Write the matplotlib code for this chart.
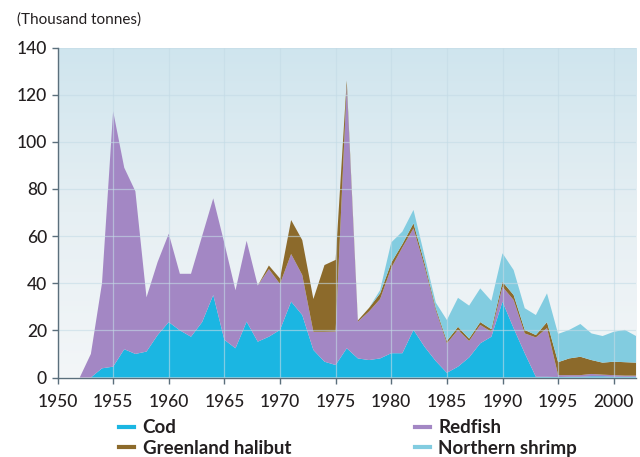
import numpy as np
import matplotlib
matplotlib.use("Agg")
import matplotlib.pyplot as plt
from matplotlib.lines import Line2D
from matplotlib.colors import LinearSegmentedColormap

years = list(range(1950, 2003))

# cumulative tops (thousand tonnes)
cod = [0, 0, 0, 0, 3.9, 4.6, 12, 10, 11, 18, 23.5, 20, 17.3, 23.5, 35, 16, 12.4, 23.7, 15.2, 17.3,
       20.2, 32.2, 26.5, 11.7, 6.7, 5.3, 12.4, 8.1, 7.4, 8.1, 10.3, 10.3, 20.2, 13, 7, 2, 4.6, 8.5, 14.5, 17.3,
       32.2, 20.9, 10.3, 0.3, 0.3, 0.2, 0.3, 0.3, 0.5, 0.5, 0.3, 0.3, 0.3]
redfish_top = [0, 0, 0, 10, 40, 113, 89, 79, 34, 49, 61, 44, 44, 60, 76, 57, 37, 58, 39, 46,
               39.7, 52.4, 43.5, 19.4, 19.4, 19.5, 124, 23.7, 28, 33.3, 46.5, 55.2, 63.3, 47, 28.6, 14.5, 20.2, 15.5, 22.3, 19.4,
               38.5, 32.9, 18.7, 17, 21, 1, 1, 1, 1.5, 1.2, 1, 0.8, 0.8]
halibut_top = [0, 0, 0, 10, 40, 113, 89, 79, 34, 49, 61, 44, 44, 60, 76, 57, 37, 58, 39, 47.5,
               42, 66.8, 58.3, 33.3, 47.7, 49.9, 126, 24.2, 29.5, 35.7, 48.7, 56.6, 65.4, 48.5, 29.5, 15.5, 21.5, 16.5, 23.5, 20.5,
               40.6, 35, 20.2, 18, 23.5, 6.5, 8.1, 8.8, 7.4, 6.3, 6.7, 6.5, 6.3]
shrimp_top = [0, 0, 0, 10, 40, 113, 89, 79, 34, 49, 61, 44, 44, 60, 76, 57, 37, 58, 39, 47.5,
              42, 66.8, 58.3, 33.3, 47.7, 49.9, 126, 24.2, 29.5, 37.1, 57.3, 61.9, 71.1, 51.5, 31.8, 24.4, 33.8, 30.5, 37.8, 32.5,
              52.7, 45.6, 29.4, 26.5, 35.7, 18.5, 20.2, 22.7, 18.7, 17.6, 19.4, 20.2, 17.6]

redfish = [max(r - c, 0) for r, c in zip(redfish_top, cod)]
halibut = [max(h - r, 0) for h, r in zip(halibut_top, redfish_top)]
shrimp = [max(s - h, 0) for s, h in zip(shrimp_top, halibut_top)]

labels = ["Cod", "Redfish", "Greenland halibut", "Northern shrimp"]
colors = ["#1bb6e2", "#a387c4", "#8c6a2b", "#82cce0"]
yticks = [0, 20, 40, 60, 80, 100, 120, 140]
xticks = list(range(1950, 2001, 5))

plt.rcParams['font.family'] = ['Lato', 'DejaVu Sans']

fig = plt.figure(figsize=(6.4, 4.57), dpi=100)
ax = fig.add_axes([57.5/640, 1-377.5/457, (636-57.5)/640, (377.5-47.5)/457])

# background gradient
grad = np.linspace(0, 1, 256).reshape(-1, 1)
cmap = LinearSegmentedColormap.from_list("bg", ["#f3f6f8", "#e6eff3", "#cfe5ee"])
ax.imshow(grad, aspect='auto', cmap=cmap, origin='lower',
          extent=[1950, 2002, 0, 140], zorder=0)

ax.stackplot(years, cod, redfish, halibut, shrimp, colors=colors,
             linewidth=0, zorder=2)

ax.set_xlim(1950, 2002)
ax.set_ylim(0, 140)
ax.set_xticks(xticks)
ax.set_yticks(yticks)
ax.grid(True, color="#c4dbe6", linewidth=0.9, alpha=0.6, zorder=3)
ax.set_axisbelow(False)

for s in ["top", "right"]:
    ax.spines[s].set_visible(False)
for s in ["left", "bottom"]:
    ax.spines[s].set_color("#5b6f7c")
    ax.spines[s].set_linewidth(1.0)
    ax.spines[s].set_zorder(4)
ax.tick_params(axis='both', colors="#5b6f7c", length=4, width=1,
               labelcolor="#231f20", labelsize=12.5)
ax.tick_params(axis='x', pad=8)
for lab in ax.get_yticklabels() + ax.get_xticklabels():
    lab.set_fontweight('medium')

fig.text(17/640, 1-20/457, "(Thousand tonnes)", fontsize=11, color="#231f20",
         va='center', ha='left')

handles = [Line2D([0], [0], color=c, lw=3) for c in colors]
order = [0, 2, 1, 3]
leg = fig.legend([handles[i] for i in order], [labels[i] for i in order],
                 ncol=2, loc='upper left', bbox_to_anchor=(106/640, 1-406/457),
                 frameon=False, handlelength=0.8, handletextpad=0.45,
                 columnspacing=6.6, labelspacing=0.2, borderpad=0.2,
                 prop={'weight': 'bold', 'size': 13.5})
for t in leg.get_texts():
    t.set_color("#231f20")

fig.savefig("out.png", dpi=100)
